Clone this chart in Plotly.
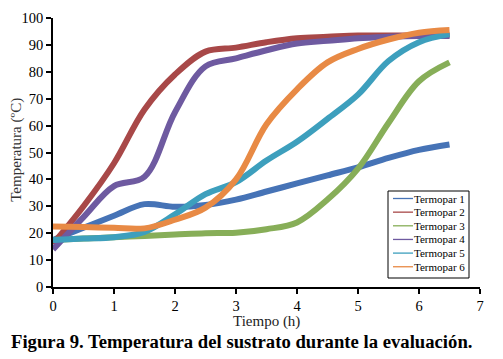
import plotly.graph_objects as go

tiempo = [0, 0.5, 1, 1.5, 2, 2.5, 3, 3.5, 4, 4.5, 5, 5.5, 6, 6.5]
termopar_1 = [17.5, 22, 26.5, 30.8, 29.8, 30.5, 32.5, 35.5, 38.5, 41.5, 44.5, 48, 51, 53]
termopar_2 = [16, 30, 46, 66, 79, 87.5, 89, 91, 92.5, 93, 93.5, 93.5, 93.5, 93.5]
termopar_3 = [17.5, 18, 18.5, 19, 19.5, 20, 20.2, 21.5, 24, 32.5, 44, 61, 76.5, 83.5]
termopar_4 = [14, 26, 37.5, 41, 65, 82, 85, 88, 90.5, 91.5, 92.5, 93, 93.3, 93.3]
termopar_5 = [17.5, 18, 18.5, 20.5, 27, 34.5, 39, 47, 54, 62.5, 71.5, 84, 91, 94]
termopar_6 = [22.5, 22.3, 22, 21.8, 25, 29.5, 40, 60.5, 73.5, 83.5, 88.5, 92, 94.5, 95.5]

names = ["Termopar 1", "Termopar 2", "Termopar 3", "Termopar 4", "Termopar 5", "Termopar 6"]
series = [termopar_1, termopar_2, termopar_3, termopar_4, termopar_5, termopar_6]
colors = ["#4673B6", "#A84848", "#87AE58", "#6E5AA0", "#3D9FBD", "#E88A45"]

x_ticks = [0, 1, 2, 3, 4, 5, 6, 7]
y_ticks = [0, 10, 20, 30, 40, 50, 60, 70, 80, 90, 100]

SERIF = "Liberation Serif"

W, H = 503, 359
ML, MR, MT, MB = 53, 23, 18, 72
PW, PH = W - ML - MR, H - MT - MB


def px_x(p):
    return (p - ML) / PW


def px_y(p):
    return (H - MB - p) / PH


fig = go.Figure()
for name, ys, c in zip(names, series, colors):
    fig.add_trace(go.Scatter(x=tiempo, y=ys, mode="lines", name=name,
                             line=dict(color=c, width=6, shape="spline", smoothing=1.0),
                             showlegend=False, hoverinfo="skip"))

# manual legend (box, short line samples, labels)
shapes = [dict(type="rect", xref="paper", yref="paper",
               x0=px_x(388), x1=px_x(469), y0=px_y(278), y1=px_y(191),
               line=dict(color="black", width=1), fillcolor="white", layer="above")]
annotations = []
for i, (name, c) in enumerate(zip(names, colors)):
    yc = 198.5 + i * 13.65
    shapes.append(dict(type="line", xref="paper", yref="paper",
                       x0=px_x(393), x1=px_x(413), y0=px_y(yc), y1=px_y(yc),
                       line=dict(color=c, width=1.3), layer="above"))
    annotations.append(dict(text=name, xref="paper", yref="paper",
                            x=px_x(412), y=px_y(yc), xanchor="left", yanchor="middle",
                            showarrow=False, font=dict(size=11, family=SERIF, color="black")))

annotations += [
    dict(text="Tiempo (h)", xref="paper", yref="paper", x=0.5, y=px_y(321),
         xanchor="center", yanchor="middle", showarrow=False,
         font=dict(size=15, family=SERIF, color="#222")),
    dict(text="Temperatura (ºC)", xref="paper", yref="paper", x=px_x(17), y=0.51,
         xanchor="center", yanchor="middle", showarrow=False, textangle=-90,
         font=dict(size=15, family=SERIF, color="#333")),
    dict(text="<b>Figura 9. Temperatura del sustrato durante la evaluación.</b>",
         xref="paper", yref="paper", x=px_x(241), y=px_y(342),
         xanchor="center", yanchor="middle", showarrow=False,
         font=dict(size=18.7, family=SERIF, color="black")),
]

fig.update_layout(
    width=W, height=H,
    margin=dict(l=ML, r=MR, t=MT, b=MB, autoexpand=False),
    paper_bgcolor="white", plot_bgcolor="white",
    font=dict(family=SERIF, color="black"),
    showlegend=False,
    xaxis=dict(range=[0, 7], tickvals=x_ticks, showgrid=False, zeroline=False,
               showline=True, linecolor="black", linewidth=1.5,
               ticks="outside", ticklen=5, tickwidth=1.5, tickcolor="black",
               tickfont=dict(size=14.5, family=SERIF, color="black")),
    yaxis=dict(range=[0, 100], tickvals=y_ticks, showgrid=False, zeroline=False,
               showline=True, linecolor="black", linewidth=1.5,
               ticks="outside", ticklen=5, tickwidth=1.5, tickcolor="black",
               tickfont=dict(size=14.5, family=SERIF, color="black")),
    shapes=shapes,
    annotations=annotations,
)

fig.write_html("out.html", config={"displayModeBar": False},
               post_script="document.body.style.margin='0';document.body.style.overflow='hidden';")
